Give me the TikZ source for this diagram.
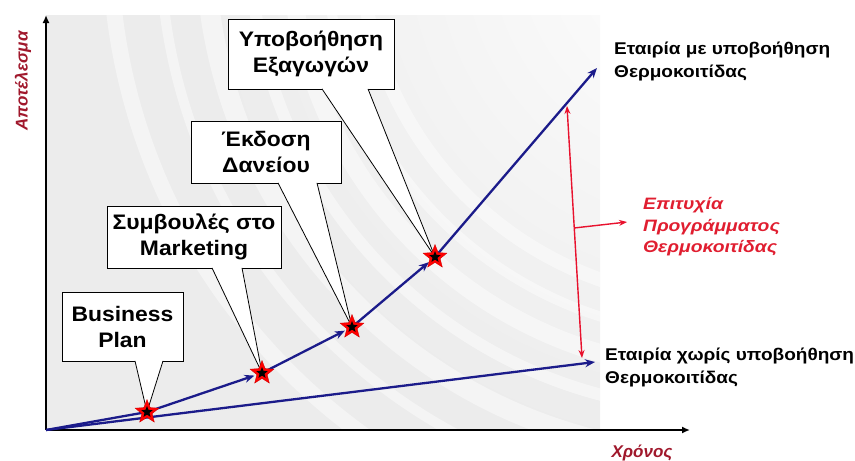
\documentclass[tikz,border=0pt]{standalone}
\usepackage{fontspec}
\setmainfont{Liberation Sans}
\newfontfamily\calloutfont[FakeStretch=1.09]{Liberation Sans}
\newfontfamily\sidefont[FakeStretch=1.12]{Liberation Sans}
\newfontfamily\redfont[FakeStretch=1.17]{Liberation Sans}
\usetikzlibrary{shapes.geometric,arrows.meta,calc}
\definecolor{navyline}{HTML}{1B1B8A}
\definecolor{redarrow}{HTML}{E8112D}
\definecolor{redtext}{HTML}{E01E30}
\definecolor{axislab}{HTML}{A0182C}
\tikzset{
  callout/.style={draw=black, fill=white, line width=0.8pt, inner sep=0pt, align=center,
    font=\calloutfont\bfseries\fontsize{21}{26}\selectfont},
  pointer/.style={fill=white, draw=black, line width=0.8pt, line join=miter},
  blueline/.style={draw=navyline, line width=2.3pt},
  bluearrow/.style={blueline, -{Stealth[length=10pt,width=8pt]}},
  axisline/.style={draw=black, line width=2.2pt, -{Latex[length=8pt,width=7pt]}},
  redline/.style={draw=redarrow, line width=1.4pt},
  redstar/.style={star, star points=5, star point ratio=2.3, fill=red, draw=red!80!black, line width=0.3pt, minimum size=25pt, inner sep=0pt},
  blackstar/.style={star, star points=5, star point ratio=2.3, fill=black, minimum size=12pt, inner sep=0pt},
  sidelabel/.style={anchor=west, align=left, inner sep=0pt, font=\sidefont\bfseries\fontsize{17}{23}\selectfont},
  redlabel/.style={anchor=west, align=left, inner sep=0pt, text=redtext, font=\redfont\bfseries\itshape\fontsize{16.5}{21.5}\selectfont},
  axislabel/.style={inner sep=0pt, text=axislab, font=\bfseries\itshape\fontsize{17}{20}\selectfont}
}
\begin{document}
\begin{tikzpicture}[x=1pt,y=-1pt]
\useasboundingbox (0,0) rectangle (855,461);
% background
\begin{scope}
  \clip (46,15) rectangle (600,430);
  \fill[gray!15] (46,15) rectangle (600,430);
  \shade[inner color=white, outer color=gray!15] (720,-60) circle (520);
  \foreach \r/\w in {360/14,395/10,430/18,470/12,515/20,560/10,610/16}
    \draw[white, line width=\w, opacity=0.45] (720,-60) circle (\r);
\end{scope}
% coordinates
\coordinate (o) at (46,430);
\coordinate (yt) at (46,15);
\coordinate (xt) at (690,430);
\coordinate (s1) at (147,412);
\coordinate (s2) at (262,373);
\coordinate (s3) at (352,327);
\coordinate (s4) at (435,257);
\coordinate (e1) at (597,68);
\coordinate (e2) at (595,362);
\coordinate (r1) at (567,106);
\coordinate (r2) at (582,358);
\coordinate (rb) at (627,222);
% callouts
\node[callout, minimum width=121, minimum height=69] (bp) at (122.5,326.5) {Business\\Plan};
\filldraw[pointer] ($(bp.south)+(12.5,-0.5)$) -- (s1) -- ($(bp.south)+(40.5,-0.5)$);
\node[callout, minimum width=174, minimum height=62] (sm) at (194,237) {Συμβουλές στο\\Marketing};
\filldraw[pointer] ($(sm.south)+(18,-0.5)$) -- (s2) -- ($(sm.south)+(48,-0.5)$);
\node[callout, minimum width=150, minimum height=62] (ed) at (266,152) {Έκδοση\\Δανείου};
\filldraw[pointer] ($(ed.south)+(12,-0.5)$) -- (s3) -- ($(ed.south)+(51,-0.5)$);
\node[callout, minimum width=166, minimum height=70] (ye) at (311,54) {Υποβοήθηση\\Εξαγωγών};
\filldraw[pointer] ($(ye.south)+(11,-0.5)$) -- (s4) -- ($(ye.south)+(57,-0.5)$);
% axes
\draw[axisline] (o) -- (yt);
\draw[axisline] (o) -- (xt);
% blue lines
\draw[bluearrow] (o) -- (e2);
\draw[blueline] (o) -- (s1);
\draw[bluearrow, shorten >=8pt] (s1) -- (s2);
\draw[bluearrow, shorten >=8pt] (s2) -- (s3);
\draw[bluearrow, shorten >=8pt] (s3) -- (s4);
\draw[bluearrow] (s4) -- (e1);
% stars
\foreach \s in {1,2,3,4}{
  \node[redstar] (st\s) at (s\s) {};
  \node[blackstar] (bs\s) at (s\s) {};
}
% red arrow
\draw[redline, {Stealth[length=8pt,width=6pt]}-{Stealth[length=8pt,width=6pt]}] (r1) -- (r2);
\draw[redline, -{Stealth[length=8pt,width=6pt]}] ($(r1)!0.484!(r2)$) -- (rb);
% labels
\node[sidelabel] (l1) at (614,62) {Εταιρία με υποβοήθηση\\Θερμοκοιτίδας};
\node[sidelabel] (l2) at (605,368) {Εταιρία χωρίς υποβοήθηση\\Θερμοκοιτίδας};
\node[redlabel] (l3) at (643,227) {Επιτυχία\\Προγράμματος\\Θερμοκοιτίδας};
\node[axislabel] (xl) at (642,453) {Χρόνος};
\node[axislabel, rotate=90] (yl) at (23,81) {Αποτέλεσμα};
\end{tikzpicture}
\end{document}
